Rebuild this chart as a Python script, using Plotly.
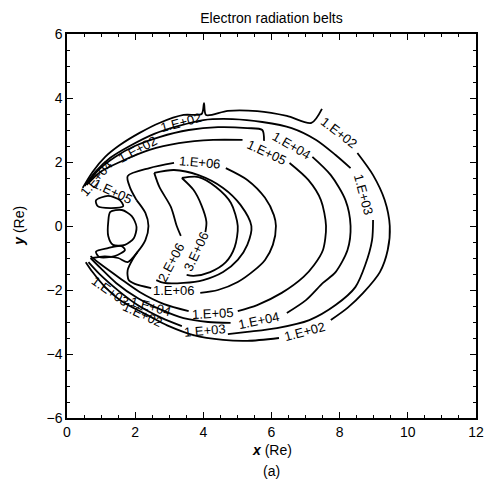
import plotly.graph_objects as go

# ---- contour lines (x, y in Re); None = gap for label ----
c02_x = [0.46, 0.75, 1.12, 1.55, 2.13, 2.71, 3.42, 3.95, 4.02, 4.08, 4.72, 5.58, 6.45, 7.17, 7.48, None,
         8.52, 8.98, 9.32, 9.47, 9.41, 9.18, 8.69, 8.23, 7.74, None,
         6.22, 5.29, 4.58, 3.71, 2.99, 2.6, 2.2, 1.55, 1.12, 0.75, 0.55]
c02_y = [1.19, 1.69, 2.16, 2.53, 2.91, 3.22, 3.47, 3.5, 3.84, 3.47, 3.6, 3.59, 3.44, 3.22, 3.66, None,
         2.28, 1.59, 0.81, 0.0, -0.75, -1.44, -2.09, -2.56, -2.94, None,
         -3.5, -3.59, -3.56, -3.41, -3.13, -2.92, -2.7, -2.31, -1.91, -1.44, -1.13]

c03_x = [0.52, 0.83, 1.27, 1.84, 2.56, 3.28, 4.0, 4.86, 5.73, 6.59, 7.31, 7.88, 8.32, None,
         8.98, 8.95, 8.75, 8.46, 7.88, 7.11, 6.16, 5.29, 4.72, None,
         3.37, 2.79, 2.07, 1.55, 0.98, 0.63]
c03_y = [1.25, 1.69, 2.13, 2.5, 2.88, 3.13, 3.31, 3.34, 3.25, 3.06, 2.69, 2.22, 1.81, None,
         0.19, -0.44, -1.22, -1.91, -2.47, -2.94, -3.19, -3.31, -3.38, None,
         -3.13, -2.88, -2.47, -2.06, -1.53, -1.13]

c04_x = [0.58, 0.92, 1.41, 1.99, 2.71, 3.57, 4.43, 5.29, 5.73, 5.78, None,
         7.2, 7.74, 8.17, 8.32, 8.23, 7.88, 7.51, 7.02, 6.45, None,
         4.8, 4.14, 3.42, 2.79, 2.07, 1.44, 0.98, 0.69]
c04_y = [1.28, 1.75, 2.16, 2.5, 2.78, 3.0, 3.09, 3.06, 3.0, 2.66, None,
         2.16, 1.59, 0.81, 0.0, -0.75, -1.44, -1.78, -2.31, -2.72, None,
         -3.03, -3.0, -2.88, -2.63, -2.25, -1.78, -1.31, -1.0]

c05_x = [0.63, 0.98, 1.55, 2.42, 3.28, 4.29, 5.15, None,
         6.53, 7.08, 7.45, 7.6, 7.51, 7.25, 6.94, 6.3, 5.58, 5.01, None,
         3.57, 2.85, 2.13, 1.55, 0.98, 0.69]
c05_y = [1.34, 1.69, 2.0, 2.38, 2.59, 2.69, 2.69, None,
         1.97, 1.44, 0.81, 0.0, -0.75, -1.22, -1.59, -2.09, -2.47, -2.66, None,
         -2.66, -2.44, -2.06, -1.63, -1.19, -0.94]

c05i_x = [0.52, None, 2.04, 2.3, 2.39, 2.3, 2.07, 1.78, 1.5, 1.1, 0.75]
c05i_y = [0.97, None, 0.81, 0.41, 0.0, -0.44, -0.81, -1.13, -1.0, -0.95, -1.0]

c06_x = [2.04, 1.85, 1.78, 2.42, 3.14, None, 4.66, 5.29, 5.81, 6.07, 6.13, 6.04, 5.81, 5.5, 5.01, 4.43, 3.91,
         None, 2.47, 1.99, 1.81, 1.78, 1.95, 2.07]
c06_y = [0.81, 1.2, 1.56, 1.81, 1.97, None, 1.81, 1.44, 0.88, 0.34, 0.0, -0.59, -1.06, -1.38, -1.75, -2.0, -2.09,
         None, -1.94, -1.81, -1.69, -1.38, -1.0, -0.81]

c2e6_x = [2.56, 3.14, 3.86, 4.58, 5.09, 5.41, 5.29, 5.01, 4.58, 4.0, 3.42, 2.85, 2.62, None,
          3.34, 3.22, 3.05, 2.71, 2.56]
c2e6_y = [1.66, 1.75, 1.59, 1.19, 0.66, 0.0, -0.59, -1.06, -1.44, -1.69, -1.78, -1.78, -1.69, None,
          -0.31, 0.0, 0.59, 1.22, 1.66]

c3e6_x = [3.37, 3.86, 4.37, 4.81, 5.01, 4.92, 4.66, 4.2, 3.71, 3.51, None, 4.06, 4.09, 3.94, 3.71, 3.37]
c3e6_y = [1.5, 1.53, 1.22, 0.72, 0.0, -0.66, -1.13, -1.44, -1.56, -1.53, None, -0.19, 0.13, 0.66, 1.13, 1.5]

cin_x = [1.27, 1.61, 1.9, 2.04, 1.96, 1.7, 1.35, 1.21, 1.21, 1.27]
cin_y = [0.44, 0.5, 0.31, -0.03, -0.38, -0.59, -0.59, -0.31, 0.13, 0.44]

lobe_up_x = [0.85, 1.2, 1.55, 1.65, 1.3, 0.9, 0.85]
lobe_up_y = [0.8, 0.94, 0.81, 0.62, 0.56, 0.62, 0.8]
lobe_dn_x = [0.85, 1.2, 1.6, 1.7, 1.4, 0.95, 0.85]
lobe_dn_y = [-0.8, -0.69, -0.63, -0.75, -0.94, -0.97, -0.8]

lines = [(c02_x, c02_y), (c03_x, c03_y), (c04_x, c04_y), (c05_x, c05_y), (c05i_x, c05i_y),
         (c06_x, c06_y), (c2e6_x, c2e6_y), (c3e6_x, c3e6_y), (cin_x, cin_y),
         (lobe_up_x, lobe_up_y), (lobe_dn_x, lobe_dn_y)]

# ---- contour labels: text, x, y, angle ----
lab_text = ["1.E+02", "1.E+03", "1.E+04", "1.E+05", "1.E+06", "1.E+06", "2.E+06", "3.E+06",
            "1.E+05", "1.E+02", "1.E+04", "1.E+05", "1.E+03", "1.E+02", "1.E+04",
            "1.E+02", "1.E+02", "1.E+04", "1.E+03"]
lab_x = [7.97, 8.69, 6.59, 5.87, 3.91, 3.14, 3.05, 3.8,
         1.35, 6.99, 5.64, 4.29, 4.06, 2.22, 2.45,
         2.07, 3.34, 0.85, 1.27]
lab_y = [2.91, 0.97, 2.53, 2.31, 2.0, -2.03, -1.13, -0.81,
         1.09, -3.31, -2.94, -2.72, -3.25, -2.75, -2.5,
         2.38, 3.25, 1.5, -2.06]
lab_ang = [38, 75, 30, 25, 5, 0, -62, -65,
           25, -15, -12, -3, -5, 25, 15,
           -28, -15, -50, 35]

FONT = "Liberation Sans, Arial"

fig = go.Figure()
for lx, ly in lines:
    fig.add_trace(go.Scatter(x=lx, y=ly, mode="lines",
                             line=dict(color="black", width=1.8, shape="spline", smoothing=0.8),
                             connectgaps=False, showlegend=False, hoverinfo="skip"))

for t, x, y, a in zip(lab_text, lab_x, lab_y, lab_ang):
    fig.add_annotation(x=x, y=y, text=t, textangle=a, showarrow=False,
                       font=dict(family=FONT, size=13, color="black"))

axis_common = dict(showline=True, linecolor="black", linewidth=1.5, mirror="ticks",
                   ticks="inside", ticklen=6, tickwidth=1.2, tickcolor="black",
                   showgrid=False, zeroline=False,
                   tickfont=dict(family=FONT, size=14, color="black"),
                   minor=dict(ticks="inside", ticklen=3, dtick=0.5, tickcolor="black", showgrid=False))

fig.update_xaxes(range=[0, 12], dtick=2, **axis_common)
fig.update_yaxes(range=[-6, 6], dtick=2, **axis_common)

fig.add_annotation(xref="paper", yref="paper", x=0.5, y=-0.083, xanchor="center", yanchor="middle",
                   text="<b><i>x</i></b> (Re)", showarrow=False,
                   font=dict(family=FONT, size=14, color="black"))
fig.add_annotation(xref="paper", yref="paper", x=0.5, y=-0.138, xanchor="center", yanchor="middle",
                   text="(a)", showarrow=False, font=dict(family=FONT, size=14, color="black"))
fig.add_annotation(xref="paper", yref="paper", x=-0.118, y=0.5, xanchor="center", yanchor="middle",
                   text="<b><i>y</i></b> (Re)", textangle=-90, showarrow=False,
                   font=dict(family=FONT, size=14, color="black"))

# page body has an 8px default margin, so the figure is sized to land the plot where the reference has it
fig.update_layout(
    width=488, height=471,
    margin=dict(l=59, r=12, t=26, b=61),
    paper_bgcolor="white", plot_bgcolor="white",
    title=dict(text="Electron radiation belts", x=0.5, xref="paper", y=0.979, yanchor="middle",
               font=dict(family=FONT, size=14, color="black")),
    showlegend=False,
)

fig.write_html("out.html")
